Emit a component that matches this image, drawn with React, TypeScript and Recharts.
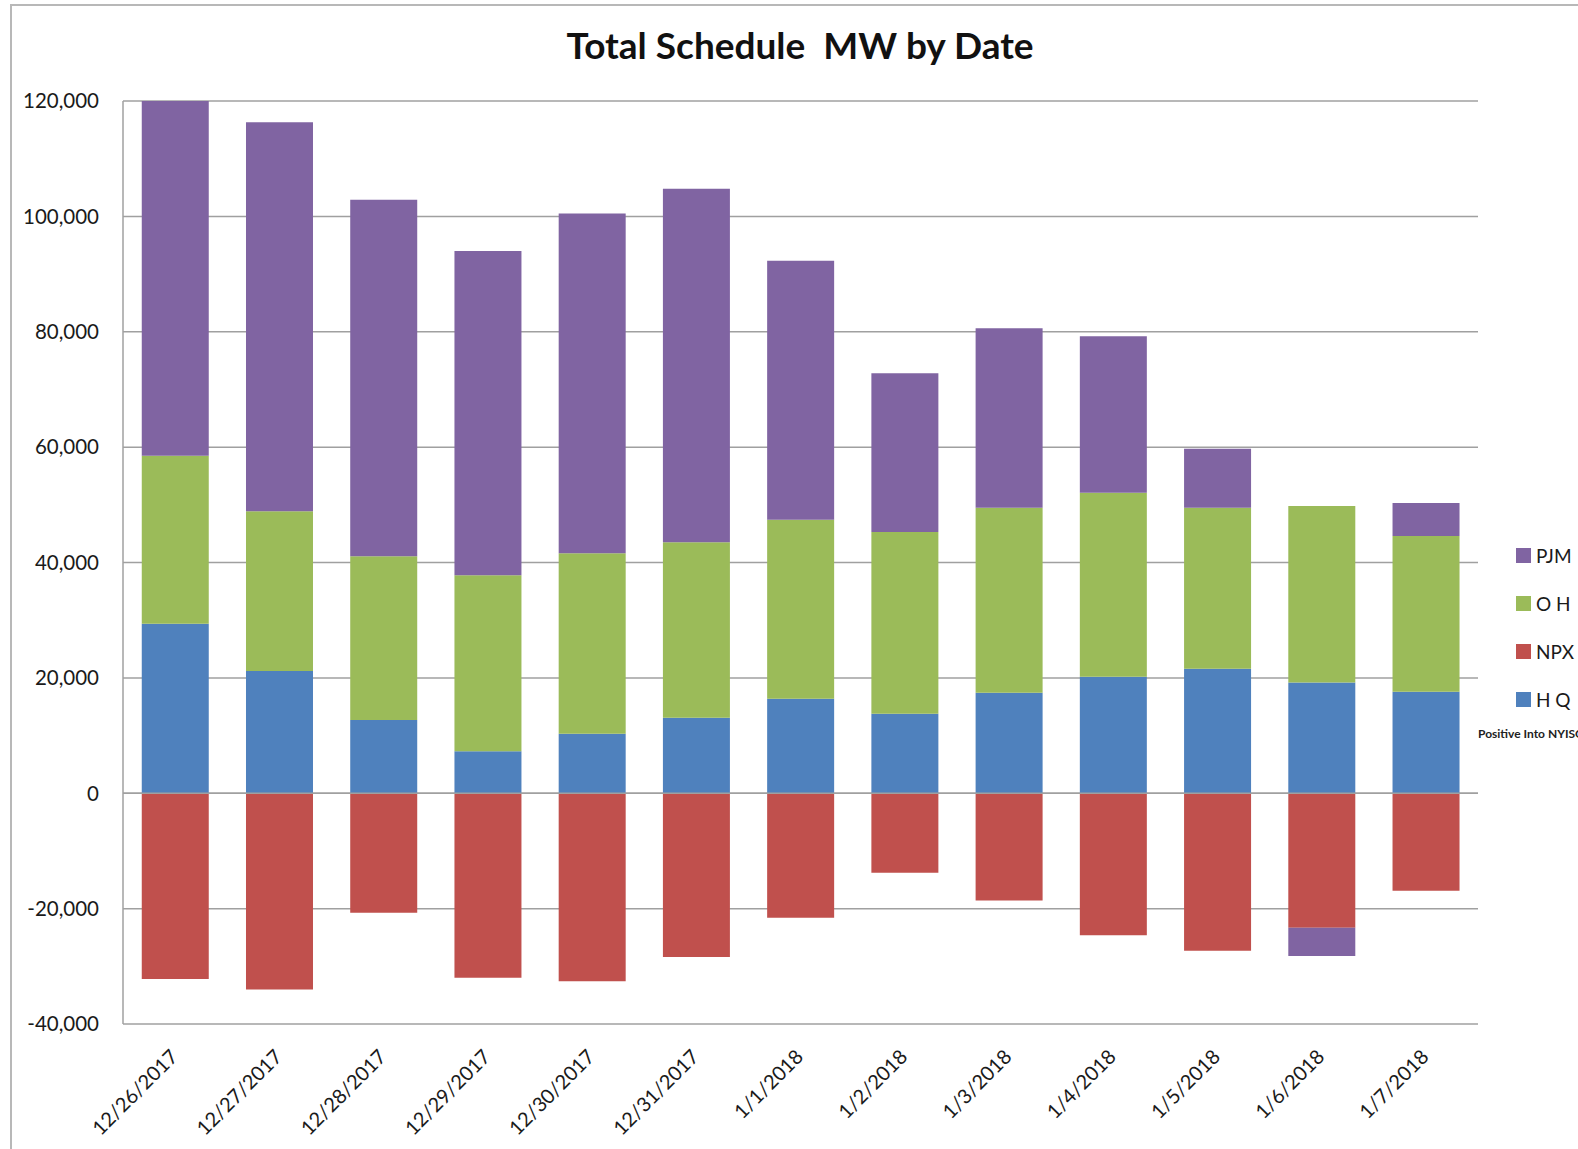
import React from "react";
import { BarChart, Bar, XAxis, YAxis, CartesianGrid, ReferenceLine } from "recharts";

const dates = [
  "12/26/2017", "12/27/2017", "12/28/2017", "12/29/2017", "12/30/2017", "12/31/2017",
  "1/1/2018", "1/2/2018", "1/3/2018", "1/4/2018", "1/5/2018", "1/6/2018", "1/7/2018",
];
const hq = [29400, 21200, 12700, 7300, 10300, 13100, 16400, 13800, 17400, 20200, 21600, 19200, 17600];
const npx = [-32200, -34000, -20700, -32000, -32600, -28400, -21600, -13800, -18600, -24600, -27300, -23300, -16900];
const oh = [29100, 27700, 28400, 30500, 31300, 30400, 31000, 31500, 32100, 31900, 27900, 30600, 27000];
const pjm = [61500, 67400, 61800, 56200, 58900, 61300, 44900, 27500, 31100, 27100, 10200, -4900, 5700];
const yTicks = [-40000, -20000, 0, 20000, 40000, 60000, 80000, 100000, 120000];

const seriesNames = { hq: "H Q", npx: "NPX", oh: "O H", pjm: "PJM" };
const colors = { hq: "#4F81BD", npx: "#C0504D", oh: "#9BBB59", pjm: "#8064A2" };

const data = dates.map((d, i) => ({ date: d, hq: hq[i], npx: npx[i], oh: oh[i], pjm: pjm[i] }));

const FONT = "Lato, 'Open Sans', sans-serif";

const XTick = (props: any) => {
  const { x, y, payload } = props;
  const px = x + 4;
  const py = y + 26;
  return (
    <text
      x={px}
      y={py}
      textAnchor="end"
      fontSize={20}
      fontFamily={FONT}
      fill="#1a1a1a"
      transform={`rotate(-45, ${px}, ${py})`}
    >
      {payload.value}
    </text>
  );
};

const LegendBox = () => {
  const order: (keyof typeof seriesNames)[] = ["pjm", "oh", "npx", "hq"];
  return (
    <div style={{ fontFamily: FONT, position: "absolute", left: 1516, top: 531, width: 80 }}>
      {order.map((k) => (
        <div key={k} style={{ display: "flex", alignItems: "center", height: 48 }}>
          <span style={{ display: "inline-block", width: 15, height: 15, background: colors[k], marginRight: 5 }} />
          <span style={{ fontSize: 19, color: "#1a1a1a" }}>{seriesNames[k]}</span>
        </div>
      ))}
      <div style={{ position: "absolute", left: -38, top: 195, fontSize: 12, fontWeight: 700, color: "#222", whiteSpace: "nowrap" }}>
        Positive Into NYISO
      </div>
    </div>
  );
};

export default function App() {
  return (
    <div style={{ position: "absolute", left: 0, top: 0, width: 1578, height: 1149, overflow: "hidden", background: "#fff" }}>
      <div
        style={{
          position: "absolute",
          left: 10,
          top: 4,
          width: 1700,
          height: 1300,
          border: "2px solid #b8b8b8",
          boxSizing: "border-box",
        }}
      />
      <div
        style={{
          position: "absolute",
          left: 0,
          top: 22,
          width: 1600,
          textAlign: "center",
          fontFamily: FONT,
          fontWeight: 700,
          fontSize: 37,
          color: "#111",
          whiteSpace: "pre",
        }}
      >
        {"Total Schedule  MW by Date"}
      </div>
      <div style={{ position: "absolute", left: 0, top: 0 }}>
        <BarChart
          width={1578}
          height={1149}
          data={data}
          stackOffset="sign"
          barCategoryGap="18%"
          margin={{ top: 101, right: 100, bottom: 0, left: 23 }}
        >
          <CartesianGrid vertical={false} stroke="#a0a0a0" strokeWidth={1.5} />
          <XAxis
            dataKey="date"
            height={125}
            axisLine={false}
            tickLine={false}
            interval={0}
            tick={<XTick />}
          />
          <YAxis
            width={100}
            domain={[-40000, 120000]}
            ticks={yTicks}
            interval={0}
            tickLine={false}
            tickSize={0}
            tickMargin={24}
            axisLine={{ stroke: "#a0a0a0", strokeWidth: 1.5 }}
            tickFormatter={(v: number) => v.toLocaleString("en-US")}
            tick={{ fontSize: 20.5, fontFamily: FONT, fill: "#1a1a1a" }}
          />
          <ReferenceLine y={0} stroke="#a0a0a0" strokeWidth={1.5} />
          <Bar dataKey="hq" name={seriesNames.hq} stackId="a" fill={colors.hq} isAnimationActive={false} />
          <Bar dataKey="npx" name={seriesNames.npx} stackId="a" fill={colors.npx} isAnimationActive={false} />
          <Bar dataKey="oh" name={seriesNames.oh} stackId="a" fill={colors.oh} isAnimationActive={false} />
          <Bar dataKey="pjm" name={seriesNames.pjm} stackId="a" fill={colors.pjm} isAnimationActive={false} />
        </BarChart>
      </div>
      <LegendBox />
    </div>
  );
}
